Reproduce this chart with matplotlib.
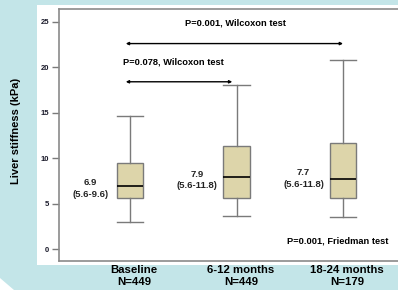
import matplotlib
matplotlib.use("Agg")
import matplotlib.pyplot as plt
from matplotlib.patches import Rectangle, Polygon

plt.rcParams['font.family'] = ['Liberation Sans', 'DejaVu Sans']
plt.rcParams['font.weight'] = 'bold'

# data
groups = ["Baseline", "6-12 months", "18-24 months"]
counts = [449, 449, 179]
whislo = [3.0, 3.7, 3.5]
q1 = [5.6, 5.6, 5.6]
med = [6.9, 7.9, 7.7]
q3 = [9.45, 11.35, 11.65]
whishi = [14.6, 18.0, 20.8]
value_labels = ["6.9\n(5.6-9.6)", "7.9\n(5.6-11.8)", "7.7\n(5.6-11.8)"]
yticks = [0, 5, 10, 15, 20, 25]

fig = plt.figure(figsize=(3.98, 2.90), dpi=100)
fig.patch.set_facecolor('#c3e5e8')

# white panel behind the chart
fig.patches.append(Rectangle((37 / 398, (290 - 265) / 290), 1, 260 / 290,
                             transform=fig.transFigure, facecolor='white',
                             edgecolor='none', zorder=-10))
fig.patches.append(Polygon([(0, 0), (0, 12 / 290), (14 / 398, 0)], closed=True,
                           transform=fig.transFigure, facecolor='white',
                           edgecolor='none', zorder=-10))

ax = fig.add_axes([59 / 398, 29 / 290, 1 - 59 / 398, 252 / 290])
ax.set_facecolor('white')

stats = []
for i in range(len(groups)):
    stats.append(dict(whislo=whislo[i], q1=q1[i], med=med[i], q3=q3[i],
                      whishi=whishi[i], fliers=[]))
pos = [1, 2, 3]
ax.bxp(stats, positions=pos, widths=0.25, patch_artist=True,
       boxprops=dict(facecolor='#ddd5aa', edgecolor='#7a7a7a', linewidth=1),
       medianprops=dict(color='black', linewidth=1.2),
       whiskerprops=dict(color='#7a7a7a', linewidth=1),
       capprops=dict(color='#7a7a7a', linewidth=1), capwidths=0.25)

for i in range(len(groups)):
    ax.text(pos[i] - 0.37, (q1[i] + q3[i]) / 2 - 0.85, value_labels[i],
            ha='center', va='center', fontsize=6.8, fontweight='bold',
            linespacing=1.35, color='#222222')

# comparison arrows
ax.annotate('', xy=(3, 22.6), xytext=(0.96, 22.6),
            arrowprops=dict(arrowstyle='<|-|>', color='black', lw=1,
                            mutation_scale=4, shrinkA=0, shrinkB=0))
ax.annotate('', xy=(1.96, 18.4), xytext=(0.96, 18.4),
            arrowprops=dict(arrowstyle='<|-|>', color='black', lw=1,
                            mutation_scale=4, shrinkA=0, shrinkB=0))
ax.text(1.985, 24.9, "P=0.001, Wilcoxon test", ha='center', va='center',
        fontsize=6.7, fontweight='bold')
ax.text(0.93, 20.6, "P=0.078, Wilcoxon test", ha='left', va='center',
        fontsize=6.7, fontweight='bold')
ax.text(3.43, 0.85, "P=0.001, Friedman test", ha='right', va='center',
        fontsize=6.7, fontweight='bold')

ax.set_xlim(0.333, 3.516)
ax.set_ylim(-1.3, 26.4)
ax.set_yticks(yticks)
ax.set_yticklabels([str(t) for t in yticks], fontsize=5.5, fontweight='bold',
                   color='#1a1a2a')
ax.tick_params(axis='y', length=5, width=1, color='#7a7a7a', pad=2)
ax.set_xticks([p + 0.04 for p in pos])
ax.set_xticklabels([g + "\nN=" + str(n) for g, n in zip(groups, counts)],
                   fontsize=8.2, fontweight='bold', linespacing=1.2)
ax.tick_params(axis='x', length=0, pad=3)
for s in ['left', 'top', 'bottom']:
    ax.spines[s].set_color('#8a8a8a')
    ax.spines[s].set_linewidth(1.2)
ax.spines['right'].set_visible(False)

fig.text(16 / 398, 0.55, "Liver stiffness (kPa)", rotation=90, ha='center',
         va='center', fontsize=8, fontweight='bold')

fig.savefig("out.png", dpi=100, facecolor=fig.get_facecolor())
